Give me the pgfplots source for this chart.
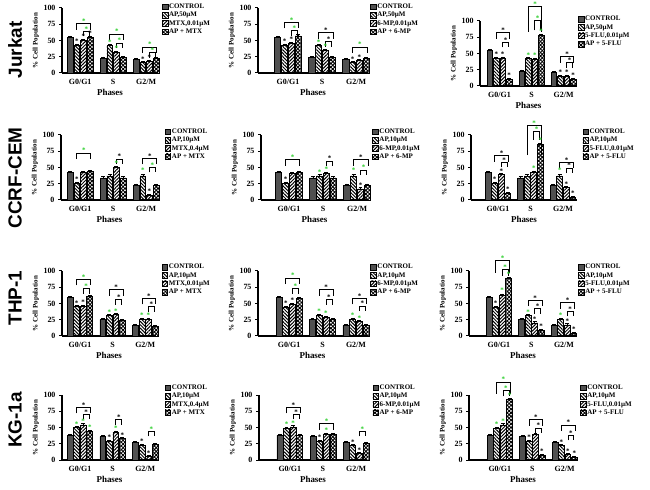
\documentclass[border=0pt]{standalone}
\usepackage{pgfplots}
\pgfplotsset{compat=1.18}
\usetikzlibrary{patterns,patterns.meta}
\usepackage{fontspec}
\setmainfont{Liberation Serif}
\newfontfamily\arialf{Liberation Sans}
\definecolor{gr}{RGB}{40,205,40}
\definecolor{ctrl}{RGB}{80,80,80}
\newcommand{\stf}{\fontsize{7}{7}\selectfont\bfseries}
% outer bracket (bar2 -> bar4)
\newcommand{\Ob}[4][6]{%
 \draw[line width=0.75pt] ([yshift=-#1bp]axis cs:{#2-0.1},#3) -- (axis cs:{#2-0.1},#3) -- (axis cs:{#2+0.32},#3) -- ([yshift=-#1bp]axis cs:{#2+0.32},#3);
 \node[text=#4, anchor=south, inner sep=0pt, font=\stf] at (axis cs:{#2+0.11},#3) {*};}
% inner bracket (bar3 -> bar4)
\newcommand{\Ib}[4][5]{%
 \draw[line width=0.75pt] ([yshift=-#1bp]axis cs:{#2+0.1},#3) -- (axis cs:{#2+0.1},#3) -- (axis cs:{#2+0.28},#3) -- ([yshift=-#1bp]axis cs:{#2+0.28},#3);
 \node[text=#4, anchor=south, inner sep=0pt, font=\stf] at (axis cs:{#2+0.19},#3) {*};}
\newcommand{\bs}[3]{\node[text=#3, anchor=south, inner sep=0pt, font=\stf] at (axis cs:#1,#2) {*};}
\pgfplotsset{
 mylegend/.style={legend image code/.code={\draw[##1] (0bp,-2.8bp) rectangle (5.5bp,3bp);}},
 pan/.style={scale only axis, height=65bp, ymin=0, ymax=100, ytick={0,25,50,75,100},
  xtick={0,1,2}, xticklabels={G0/G1,S,G2/M}, axis lines*=left,
  axis line style={line width=1.1pt}, tick align=outside,
  ytick style={line width=1pt, black}, major tick length=3bp, xtick style={draw=none},
  tick label style={font=\fontsize{8}{9}\selectfont\bfseries},
  /pgf/number format/assume math mode=true,
  xlabel={Phases}, ylabel={\% Cell Population},
  xlabel style={font=\fontsize{9}{10}\selectfont\bfseries, inner sep=1bp},
  ylabel style={font=\fontsize{7}{8}\selectfont\bfseries, inner sep=1bp},
  clip=false, anchor=south west,
  legend style={draw=none, fill=none, inner sep=0pt, anchor=north west,
    font=\fontsize{7}{7}\selectfont\bfseries, row sep=0.6bp, nodes={inner sep=0.8bp}},
  legend cell align=left,
  every axis plot/.append style={ybar, bar shift=0pt, bar width=0.18, draw=black, line width=0.7pt, mylegend,
   /pgfplots/error bars/y dir=plus, /pgfplots/error bars/y fixed=2,
   /pgfplots/error bars/error bar style={line width=0.6pt, black}}},
 c1/.style={fill=ctrl},
 c2/.style={pattern={Lines[angle=-45,distance=2.4bp,line width=1bp]}},
 c3/.style={pattern={Lines[angle=45,distance=2.4bp,line width=1bp]}},
 c4/.style={pattern={Hatch[angle=45,distance=2.6bp,line width=0.9bp]}},
}
\begin{document}
\begin{tikzpicture}
\path[use as bounding box] (0,0) rectangle (650bp,490bp);
\node[rotate=90, font=\arialf\bfseries\fontsize{19}{19}\selectfont] at (15bp,440bp) {Jurkat};
\node[rotate=90, font=\arialf\bfseries\fontsize{19}{19}\selectfont] at (15bp,312bp) {CCRF-CEM};
\node[rotate=90, font=\arialf\bfseries\fontsize{19}{19}\selectfont] at (15bp,192bp) {THP-1};
\node[rotate=90, font=\arialf\bfseries\fontsize{19}{19}\selectfont] at (15bp,70bp) {KG-1a};
% ---------------- Row 1 Jurkat
\begin{axis}[pan, at={(62bp,417bp)}, width=96bp, xmin=-0.55, xmax=2.36, legend style={at={(1.04,1.077)}}]
\addplot[c1] coordinates {(-0.3,55) (0.7,23) (1.7,21)};
\addplot[c2] coordinates {(-0.1,43) (0.9,42) (1.9,16)};
\addplot[c3] coordinates {(0.1,50) (1.1,32) (2.1,18)};
\addplot[c4] coordinates {(0.3,55) (1.3,24) (2.3,22)};
\legend{CONTROL,{AP,50µM},{MTX,0.01µM},AP + MTX}
\Ob{0}{76}{gr}\Ib{0}{64}{gr}\Ob{1}{60}{gr}\Ib{1}{46}{gr}\Ob{2}{40}{gr}\Ib{2}{31}{gr}
\bs{-0.1}{45}{black}\bs{0.1}{52}{black}\bs{0.3}{57}{black}\bs{0.9}{44}{gr}\bs{1.1}{34}{gr}\bs{1.9}{18}{black}\bs{2.1}{20}{black}
\end{axis}
\begin{axis}[pan, at={(258bp,417bp)}, width=110bp, xmin=-0.88, xmax=2.35, legend style={at={(1.02,1.077)}}]
\addplot[c1] coordinates {(-0.3,55) (0.7,24) (1.7,21)};
\addplot[c2] coordinates {(-0.1,43) (0.9,42) (1.9,16)};
\addplot[c3] coordinates {(0.1,46) (1.1,35) (2.1,19)};
\addplot[c4] coordinates {(0.3,57) (1.3,24) (2.3,22)};
\legend{CONTROL,{AP,50µM},{6-MP,0.01µM},AP +  6-MP}
\Ob{0}{78}{gr}\Ib{0}{65}{gr}\Ob{1}{62}{black}\Ib{1}{48}{black}\Ob{2}{40}{gr}
\bs{-0.1}{45}{black}\bs{0.1}{48}{black}\bs{0.9}{44}{gr}\bs{1.1}{37}{gr}\bs{1.9}{18}{black}\bs{2.1}{21}{black}
\end{axis}
\begin{axis}[pan, at={(480bp,404bp)}, width=97bp, xmin=-0.61, xmax=2.42, legend style={at={(1.01,1.09)}}]
\addplot[c1] coordinates {(-0.3,55) (0.7,23) (1.7,21)};
\addplot[c2] coordinates {(-0.1,43) (0.9,42) (1.9,15)};
\addplot[c3] coordinates {(0.1,43) (1.1,41) (2.1,15)};
\addplot[c4] coordinates {(0.3,10) (1.3,78) (2.3,10)};
\legend{CONTROL,{AP,50µM},{5-FLU,0.01µM},AP + 5-FLU}
\Ob{0}{82}{black}\Ib{0}{67}{black}\Ob[25]{1}{122}{gr}\Ib[10]{1}{101}{gr}\Ob{2}{45}{black}\Ib{2}{36}{black}
\bs{-0.1}{45}{black}\bs{0.1}{45}{black}\bs{0.3}{12}{black}\bs{0.9}{44}{gr}\bs{1.1}{43}{gr}\bs{1.3}{81}{gr}\bs{1.9}{17}{black}\bs{2.1}{17}{black}\bs{2.3}{12}{black}
\end{axis}
% ---------------- Row 2 CCRF-CEM
\begin{axis}[pan, at={(61bp,290bp)}, width=97bp, xmin=-0.58, xmax=2.36, legend style={at={(1.07,1.108)}}]
\addplot[c1] coordinates {(-0.3,42) (0.7,34) (1.7,23)};
\addplot[c2] coordinates {(-0.1,26) (0.9,37) (1.9,37)};
\addplot[c3] coordinates {(0.1,42) (1.1,50) (2.1,7)};
\addplot[c4] coordinates {(0.3,44) (1.3,34) (2.3,22)};
\legend{CONTROL,{AP,10µM},{MTX,0.4µM},AP + MTX}
\Ob{0}{72}{gr}\Ib{1}{63}{black}\Ob{2}{64}{black}\Ib{2}{50}{gr}
\bs{-0.1}{28}{black}\bs{1.1}{52}{gr}\bs{1.9}{42}{gr}\bs{2.1}{9}{black}
\end{axis}
\begin{axis}[pan, at={(261bp,290bp)}, width=107bp, xmin=-0.82, xmax=2.32, legend style={at={(1.04,1.108)}}]
\addplot[c1] coordinates {(-0.3,42) (0.7,34) (1.7,23)};
\addplot[c2] coordinates {(-0.1,26) (0.9,37) (1.9,37)};
\addplot[c3] coordinates {(0.1,41) (1.1,41) (2.1,17)};
\addplot[c4] coordinates {(0.3,42) (1.3,34) (2.3,23)};
\legend{CONTROL,{AP,10µM},{6-MP,0.01µM},AP +  6-MP}
\Ob{0}{62}{gr}\Ib{1}{60}{black}\Ob{2}{62}{black}\Ib{2}{46}{gr}
\bs{-0.1}{28}{black}\bs{0.9}{39}{gr}\bs{1.1}{43}{gr}\bs{1.9}{42}{gr}\bs{2.1}{19}{black}
\end{axis}
\begin{axis}[pan, at={(471bp,290bp)}, width=106bp, xmin=-0.83, xmax=2.43, legend style={at={(1.05,1.108)}}]
\addplot[c1] coordinates {(-0.3,42) (0.7,34) (1.7,23)};
\addplot[c2] coordinates {(-0.1,26) (0.9,37) (1.9,37)};
\addplot[c3] coordinates {(0.1,39) (1.1,43) (2.1,19)};
\addplot[c4] coordinates {(0.3,10) (1.3,85) (2.3,4)};
\legend{CONTROL,{AP,10µM},{5-FLU,0.01µM},AP + 5-FLU}
\Ob{0}{68}{black}\Ib{0}{58}{black}\Ob[30]{1}{115}{gr}\Ib[8]{1}{105}{gr}\Ob{2}{58}{black}\Ib{2}{49}{black}
\bs{-0.1}{28}{black}\bs{0.1}{41}{black}\bs{0.3}{12}{black}\bs{1.1}{45}{gr}\bs{1.3}{88}{gr}\bs{1.9}{42}{gr}\bs{2.1}{21}{black}\bs{2.3}{6}{black}
\end{axis}
% ---------------- Row 3 THP-1
\begin{axis}[pan, at={(62bp,154bp)}, width=94bp, xmin=-0.55, xmax=2.33, legend style={at={(1.06,1.12)}}]
\addplot[c1] coordinates {(-0.3,59) (0.7,25) (1.7,16)};
\addplot[c2] coordinates {(-0.1,45) (0.9,31) (1.9,26)};
\addplot[c3] coordinates {(0.1,46) (1.1,33) (2.1,26)};
\addplot[c4] coordinates {(0.3,61) (1.3,24) (2.3,15)};
\legend{CONTROL,{AP,10µM},{MTX,0.01µM},AP + MTX}
\Ob{0}{87}{gr}\Ib{0}{73}{gr}\Ob{1}{71}{black}\Ib{1}{56}{black}\Ob{2}{58}{black}\Ib{2}{45}{black}
\bs{-0.1}{47}{black}\bs{0.1}{48}{black}\bs{0.9}{33}{gr}\bs{1.1}{35}{gr}\bs{1.9}{28}{gr}\bs{2.1}{28}{gr}
\end{axis}
\begin{axis}[pan, at={(258bp,154bp)}, width=109bp, xmin=-0.93, xmax=2.33, legend style={at={(1.03,1.12)}}]
\addplot[c1] coordinates {(-0.3,59) (0.7,25) (1.7,16)};
\addplot[c2] coordinates {(-0.1,44) (0.9,32) (1.9,26)};
\addplot[c3] coordinates {(0.1,49) (1.1,29) (2.1,22)};
\addplot[c4] coordinates {(0.3,58) (1.3,26) (2.3,16)};
\legend{CONTROL,{AP,10µM},{6-MP,0.01µM},AP +  6-MP}
\Ob{0}{89}{gr}\Ib{0}{73}{gr}\Ob{1}{71}{black}\Ib{1}{56}{black}\Ob{2}{58}{black}\Ib{2}{46}{black}
\bs{-0.1}{46}{black}\bs{0.1}{51}{black}\bs{0.9}{34}{gr}\bs{1.1}{31}{gr}\bs{1.9}{28}{gr}\bs{2.1}{24}{gr}
\end{axis}
\begin{axis}[pan, at={(469bp,154bp)}, width=108bp, xmin=-0.92, xmax=2.4, legend style={at={(1.01,1.12)}}]
\addplot[c1] coordinates {(-0.3,59) (0.7,25) (1.7,16)};
\addplot[c2] coordinates {(-0.1,44) (0.9,31) (1.9,26)};
\addplot[c3] coordinates {(0.1,63) (1.1,20) (2.1,17)};
\addplot[c4] coordinates {(0.3,88) (1.3,9) (2.3,4)};
\legend{CONTROL,{AP,10µM},{5-FLU,0.01µM},AP + 5-FLU}
\Ob[12]{0}{116}{gr}\Ib[6]{0}{102}{gr}\Ob{1}{55}{black}\Ib{1}{42}{black}\Ob{2}{51}{black}\Ib{2}{38}{black}
\bs{-0.1}{46}{black}\bs{0.1}{66}{gr}\bs{0.3}{91}{gr}\bs{0.9}{33}{gr}\bs{1.1}{22}{black}\bs{1.3}{11}{black}\bs{1.9}{28}{gr}\bs{2.1}{19}{black}\bs{2.3}{6}{black}
\end{axis}
% ---------------- Row 4 KG-1a
\begin{axis}[pan, at={(62bp,30bp)}, width=95bp, xmin=-0.55, xmax=2.36, legend style={at={(1.08,1.17)}}]
\addplot[c1] coordinates {(-0.3,38) (0.7,36) (1.7,27)};
\addplot[c2] coordinates {(-0.1,50) (0.9,29) (1.9,23)};
\addplot[c3] coordinates {(0.1,54) (1.1,43) (2.1,5)};
\addplot[c4] coordinates {(0.3,44) (1.3,33) (2.3,24)};
\legend{CONTROL,{AP,10µM},{MTX,0.4µM},AP + MTX}
\Ob{0}{81}{black}\Ib{0}{70}{black}\Ib{1}{62}{black}\Ib{2}{44}{gr}
\bs{-0.1}{52}{gr}\bs{0.1}{56}{gr}\bs{0.3}{46}{gr}\bs{0.9}{31}{black}\bs{1.1}{45}{gr}\bs{1.3}{35}{black}\bs{1.9}{25}{black}\bs{2.1}{7}{black}
\end{axis}
\begin{axis}[pan, at={(259bp,30bp)}, width=108bp, xmin=-0.93, xmax=2.33, legend style={at={(1.05,1.17)}}]
\addplot[c1] coordinates {(-0.3,38) (0.7,36) (1.7,27)};
\addplot[c2] coordinates {(-0.1,49) (0.9,29) (1.9,22)};
\addplot[c3] coordinates {(0.1,51) (1.1,40) (2.1,10)};
\addplot[c4] coordinates {(0.3,38) (1.3,39) (2.3,26)};
\legend{CONTROL,{AP,10µM},{6-MP,0.01µM},AP +  6-MP}
\Ob{0}{81}{black}\Ib{0}{70}{black}\Ob{1}{56}{gr}\Ib{2}{44}{gr}
\bs{-0.1}{51}{gr}\bs{0.1}{53}{gr}\bs{0.9}{31}{black}\bs{1.1}{42}{gr}\bs{1.9}{24}{black}\bs{2.1}{12}{black}
\end{axis}
\begin{axis}[pan, at={(469bp,30bp)}, width=108bp, xmin=-0.95, xmax=2.38, legend style={at={(1.03,1.17)}}]
\addplot[c1] coordinates {(-0.3,38) (0.7,36) (1.7,27)};
\addplot[c2] coordinates {(-0.1,49) (0.9,29) (1.9,22)};
\addplot[c3] coordinates {(0.1,54) (1.1,39) (2.1,8)};
\addplot[c4] coordinates {(0.3,93) (1.3,7) (2.3,4)};
\legend{CONTROL,{AP,10µM},{5-FLU,0.01µM},AP + 5-FLU}
\Ob[12]{0}{120}{gr}\Ib[6]{0}{107}{gr}\Ob{1}{62}{black}\Ib{1}{49}{black}\Ob{2}{54}{black}\Ib{2}{38}{black}
\bs{-0.1}{51}{gr}\bs{0.1}{56}{gr}\bs{0.3}{96}{gr}\bs{0.9}{31}{black}\bs{1.3}{9}{black}\bs{1.9}{24}{black}\bs{2.1}{10}{black}\bs{2.3}{6}{black}
\end{axis}
\end{tikzpicture}
\end{document}
